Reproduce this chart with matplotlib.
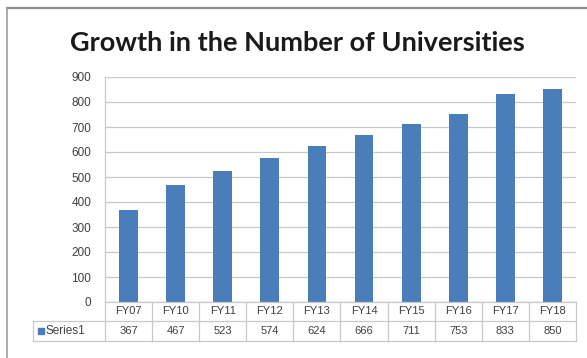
import matplotlib
matplotlib.use("Agg")
import matplotlib.pyplot as plt
from matplotlib.lines import Line2D
from matplotlib.patches import Rectangle

categories = ["FY07", "FY10", "FY11", "FY12", "FY13", "FY14", "FY15", "FY16", "FY17", "FY18"]
universities = [367, 467, 523, 574, 624, 666, 711, 753, 833, 850]
series_name = "Series1"
y_ticks = [0, 100, 200, 300, 400, 500, 600, 700, 800, 900]

W, H = 587, 358
BAR = "#4a7ebb"
GRID = "#c8c8c8"
TEXT = "#404040"

fig = plt.figure(figsize=(W / 100, H / 100), dpi=100)
fig.patch.set_facecolor("white")


def fx(px):
    return px / W


def fy(py):
    return 1 - py / H


# plot area in pixel coordinates
L, R, T, B = 105, 576, 77, 302
ax = fig.add_axes([fx(L), fy(B), fx(R) - fx(L), fy(T) - fy(B)])
x = list(range(len(categories)))
ax.bar(x, universities, width=0.4, color=BAR, zorder=3)
ax.set_xlim(-0.5, len(categories) - 0.5)
ax.set_ylim(0, 900)
ax.set_yticks(y_ticks)
ax.set_yticklabels([str(v) for v in y_ticks], fontsize=8.5, color=TEXT,
                   family="Liberation Sans")
ax.tick_params(axis="y", length=0, pad=10)
ax.set_xticks([])
ax.grid(axis="y", color=GRID, linewidth=0.9, zorder=0)
for side in ["top", "right", "bottom"]:
    ax.spines[side].set_visible(False)
ax.spines["left"].set_color(GRID)
ax.spines["left"].set_linewidth(0.9)

# data table under the plot
row1_top, row1_bot, row2_bot = 302, 321, 341
key_left = 33
col_w = (R - L) / len(categories)

lines = [
    ((L, R), (row1_top, row1_top)),
    ((key_left, R), (row1_bot, row1_bot)),
    ((key_left, R), (row2_bot, row2_bot)),
    ((key_left, key_left), (row1_bot, row2_bot)),
]
for i in range(len(categories) + 1):
    xp = L + i * col_w
    lines.append(((xp, xp), (row1_top, row2_bot)))
for xs, ys in lines:
    fig.add_artist(Line2D([fx(xs[0]), fx(xs[1])], [fy(ys[0]), fy(ys[1])],
                          color=GRID, linewidth=0.9))

for i, (cat, val) in enumerate(zip(categories, universities)):
    cx = L + (i + 0.5) * col_w
    fig.text(fx(cx), fy((row1_top + row1_bot) / 2), cat, ha="center", va="center",
             fontsize=8, color=TEXT, family="Liberation Sans")
    fig.text(fx(cx), fy((row1_bot + row2_bot) / 2), str(val), ha="center", va="center",
             fontsize=8, color=TEXT, family="Liberation Sans")

fig.add_artist(Rectangle((fx(38), fy(334)), fx(6), fy(328) - fy(334), color=BAR,
                         transform=fig.transFigure))
fig.text(fx(46), fy((row1_bot + row2_bot) / 2), series_name, ha="left", va="center",
         fontsize=8.5, color=TEXT, family="Liberation Sans")

# title
fig.text(fx(297), fy(43), "Growth in the Number of Universities", ha="center",
         va="center", fontsize=19.5, fontweight="bold", color="#1a1a1a", family="Lato")

# chart frame
fig.add_artist(Line2D([fx(7), fx(W)], [fy(8), fy(8)], color="#8c8c8c", linewidth=1.6))
fig.add_artist(Line2D([fx(7), fx(7)], [fy(8), fy(H)], color="#a0a0a0", linewidth=1.2))

fig.savefig("out.png", dpi=100)
